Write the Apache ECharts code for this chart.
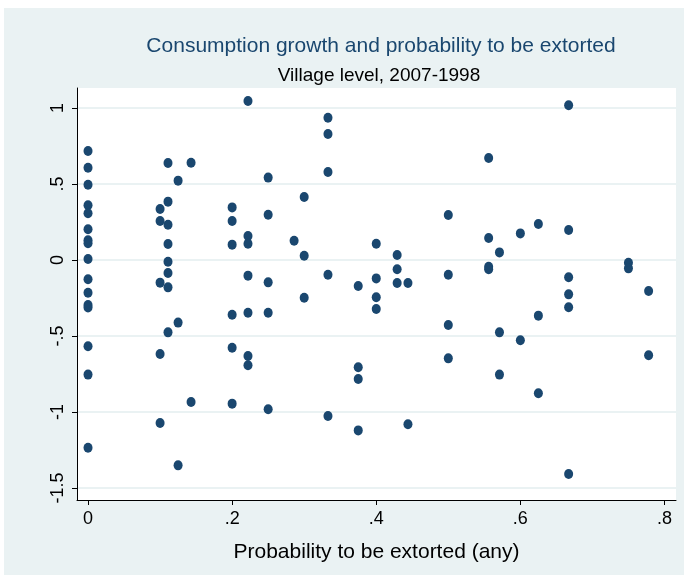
<!DOCTYPE html>
<html>
<head>
<meta charset="utf-8">
<script src="https://cdn.jsdelivr.net/npm/echarts@6/dist/echarts.min.js"></script>
<style>
  html, body { margin: 0; padding: 0; background: #fff; }
  #chart-container { width: 684px; height: 577px; }
</style>
</head>
<body>
<div id="chart-container"></div>
<script>
// share of households extorted in the village (x) and consumption growth (y)
const extortProb = [
  0, 0, 0, 0, 0, 0, 0, 0, 0, 0, 0, 0, 0, 0, 0, 0,
  0.1, 0.1, 0.1, 0.1, 0.1,
  0.111, 0.111, 0.111, 0.111, 0.111, 0.111, 0.111, 0.111,
  0.125, 0.125, 0.125,
  0.143, 0.143,
  0.2, 0.2, 0.2, 0.2, 0.2, 0.2,
  0.222, 0.222, 0.222, 0.222, 0.222, 0.222, 0.222,
  0.25, 0.25, 0.25, 0.25, 0.25,
  0.286,
  0.3, 0.3, 0.3,
  0.333, 0.333, 0.333, 0.333, 0.333,
  0.375, 0.375, 0.375, 0.375,
  0.4, 0.4, 0.4, 0.4,
  0.429, 0.429, 0.429,
  0.444, 0.444,
  0.5, 0.5, 0.5, 0.5,
  0.556, 0.556, 0.556, 0.556,
  0.571, 0.571, 0.571,
  0.6, 0.6,
  0.625, 0.625, 0.625,
  0.667, 0.667, 0.667, 0.667, 0.667, 0.667,
  0.75, 0.75,
  0.778, 0.778
];
const consGrowth = [
  0.717, 0.607, 0.495, 0.36, 0.307, 0.202, 0.13, 0.11, 0.007, -0.127, -0.215, -0.296, -0.313, -0.568, -0.754, -1.235,
  0.336, 0.257, -0.149, -0.618, -1.072,
  0.638, 0.384, 0.232, 0.105, -0.011, -0.086, -0.18, -0.476,
  0.522, -0.412, -1.351,
  0.64, -0.934,
  0.346, 0.257, 0.101, -0.36, -0.577, -0.945,
  1.046, 0.158, 0.107, -0.103, -0.347, -0.632, -0.693,
  0.542, 0.298, -0.147, -0.347, -0.982,
  0.127,
  0.414, 0.028, -0.248,
  0.936, 0.829, 0.579, -0.097, -1.026,
  -0.171, -0.706, -0.783, -1.121,
  0.107, -0.121, -0.245, -0.322,
  0.033, -0.061, -0.151,
  -0.151, -1.081,
  0.296, -0.097, -0.428, -0.647,
  0.671, 0.145, -0.044, -0.061,
  0.05, -0.476, -0.754,
  0.175, -0.528,
  0.237, -0.366, -0.877,
  1.018, 0.197, -0.114, -0.226, -0.311, -1.408,
  -0.018, -0.055,
  -0.204, -0.627
];
const xTicks = [0, 0.2, 0.4, 0.6, 0.8];
const yTicks = [-1.5, -1, -0.5, 0, 0.5, 1];

const font = "'Liberation Sans Narrow', 'Arial Narrow', Arial, sans-serif";
const stataLabel = function (v) {
  if (v === 0) return '0';
  return String(v).replace('0.', '.');
};

const points = extortProb.map(function (x, i) { return [x, consGrowth[i]]; });

const chart = echarts.init(document.getElementById('chart-container'));
chart.setOption({
  animation: false,
  backgroundColor: '#fff',
  graphic: [{
    type: 'rect',
    shape: { x: 4, y: 8, width: 680, height: 567 },
    style: { fill: '#eaf2f3' },
    z: -10
  }],
  title: [
    {
      text: 'Consumption growth and probability to be extorted',
      left: 376, top: 31, textAlign: 'center',
      textStyle: { fontFamily: font, fontSize: 21, fontWeight: 'normal', color: '#1a476f' }
    },
    {
      text: 'Village level, 2007-1998',
      left: 374, top: 61, textAlign: 'center',
      textStyle: { fontFamily: font, fontSize: 19, fontWeight: 'normal', color: '#000' }
    }
  ],
  grid: {
    left: 77, right: 8, top: 88, bottom: 77,
    show: true, backgroundColor: '#fff', borderWidth: 0
  },
  xAxis: {
    type: 'value',
    min: -0.0153, max: 0.816,
    name: 'Probability to be extorted (any)',
    nameLocation: 'middle', nameGap: 42,
    nameTextStyle: { fontFamily: font, fontSize: 21, color: '#000' },
    axisLine: { show: true, onZero: false, lineStyle: { color: '#000', width: 1 } },
    axisTick: { show: true, length: 5, customValues: xTicks, lineStyle: { color: '#000' } },
    axisLabel: {
      customValues: xTicks, margin: 10, formatter: stataLabel,
      fontFamily: font, fontSize: 18, color: '#000'
    },
    splitLine: { show: false }
  },
  yAxis: {
    type: 'value',
    min: -1.579, max: 1.1316,
    axisLine: { show: true, onZero: false, lineStyle: { color: '#000', width: 1 } },
    axisTick: { show: true, length: 5, customValues: yTicks, lineStyle: { color: '#000' } },
    axisLabel: {
      customValues: yTicks, margin: 10, rotate: 90, formatter: stataLabel,
      fontFamily: font, fontSize: 18, color: '#000'
    },
    splitLine: { show: true, lineStyle: { color: '#eaf2f3', width: 2 } }
  },
  series: [{
    type: 'scatter',
    data: points,
    symbol: 'circle',
    symbolSize: [9, 10],
    itemStyle: { color: '#1a476f', opacity: 1 }
  }]
});
</script>
</body>
</html>
